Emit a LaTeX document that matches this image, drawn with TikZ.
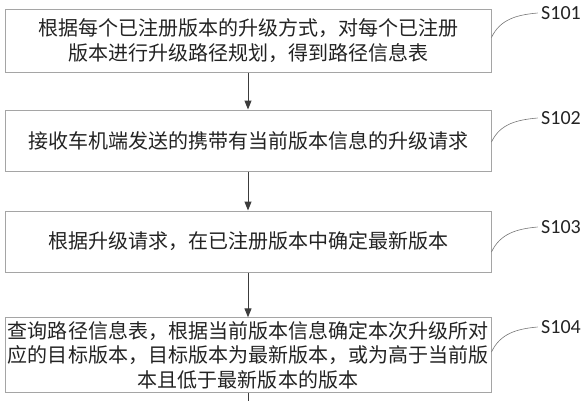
\documentclass[tikz,border=0pt]{standalone}
\usepackage{fontspec}
\setsansfont{Carlito}
\newfontfamily\cjk{Noto Sans CJK SC}
\definecolor{boxgray}{RGB}{165,165,165}
\definecolor{arrowgray}{RGB}{60,60,60}
\definecolor{textgray}{RGB}{35,35,35}
\usetikzlibrary{arrows.meta,positioning}

\tikzset{
  stepbox/.style={draw=boxgray,line width=1pt,minimum width=486pt,
        inner xsep=2pt,align=center,text=textgray,
        font=\cjk\fontsize{20}{24.5}\selectfont},
  tag/.style={text=textgray,font=\sffamily\fontsize{20}{24}\selectfont},
  leader/.style={draw=arrowgray!70,line width=0.6pt},
  flow/.style={draw=arrowgray,line width=1pt,-{Triangle[length=9pt,width=7pt]}}
}

\begin{document}
\begin{tikzpicture}[x=1pt,y=-1pt]
  \useasboundingbox (0,0) rectangle (586,400);

  % steps
  \node[stepbox,minimum height=63pt] (s1) at (248,40.5)
    {根据每个已注册版本的升级方式，对每个已注册\\版本进行升级路径规划，得到路径信息表};
  \node[stepbox,minimum height=61pt] (s2) at (248,140.5)
    {接收车机端发送的携带有当前版本信息的升级请求};
  \node[stepbox,minimum height=61pt] (s3) at (248,241.5)
    {根据升级请求，在已注册版本中确定最新版本};
  \node[stepbox,minimum height=70pt] (s4) at (248,355)
    {查询路径信息表，根据当前版本信息确定本次升级所对\\应的目标版本，目标版本为最新版本，或为高于当前版\\本且低于最新版本的版本};
  \coordinate (out) at (248,402);

  % step numbers
  \node[tag] (t1) at (561,13) {S101};
  \node[tag] (t2) at (561,118) {S102};
  \node[tag] (t3) at (561,227) {S103};
  \node[tag] (t4) at (561,327) {S104};

  \draw[leader] ([yshift=3pt]s1.east) to[out=65,in=185] (t1.west);
  \draw[leader] ([yshift=-1.5pt]s2.east) to[out=65,in=185] (t2.west);
  \draw[leader] ([yshift=-10.5pt]s3.east) to[out=65,in=185] (t3.west);
  \draw[leader] ([yshift=3pt]s4.east) to[out=65,in=185] (t4.west);

  % arrows
  \draw[flow] (s1) -- (s2);
  \draw[flow] (s2) -- (s3);
  \draw[flow] (s3) -- (s4);
  \draw[draw=arrowgray,line width=1pt] (s4) -- (out);
\end{tikzpicture}
\end{document}
